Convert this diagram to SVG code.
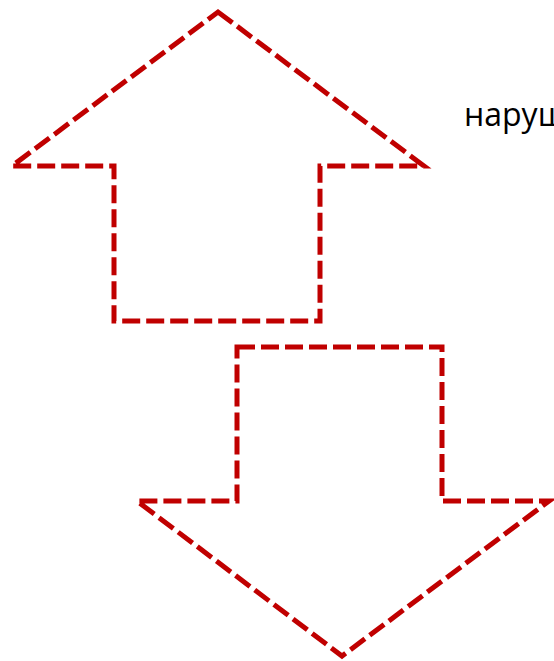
<svg xmlns="http://www.w3.org/2000/svg" width="554" height="661" viewBox="0 0 554 661">
<style>
.arrow{fill:none;stroke:#c00000;stroke-width:5;stroke-dasharray:18 6;stroke-linejoin:miter}
.lbl{font-family:"Open Sans","Noto Sans",sans-serif;font-size:32px;fill:#000}
</style>
<rect width="554" height="661" fill="#fff"/>
<g id="arrow-up">
<path class="arrow" d="M218,12 L424,166 L320,166 L320,321 L114,321 L114,166 L12,166 Z"/>
</g>
<g id="arrow-down">
<path class="arrow" d="M237,347 L442,347 L442,501 L549,501 L342,656 L137,501 L237,501 Z"/>
</g>
<g id="label">
<text class="lbl" x="464" y="126">наруш</text>
</g>
<g id="connectors"/>
</svg>
